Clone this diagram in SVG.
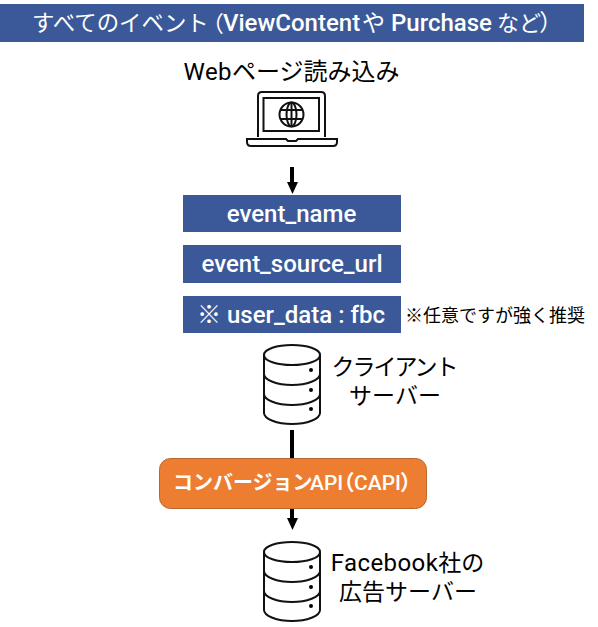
<svg xmlns="http://www.w3.org/2000/svg" width="598" height="627" viewBox="0 0 598 627">
<style>
text{font-family:Roboto,"Noto Sans CJK JP",sans-serif;text-anchor:middle}
.s{text-anchor:start}
.bar{fill:#3b5998}
.w{fill:#fff;font-weight:500}
.r{font-weight:400}
.p{font-feature-settings:"palt"}
.k{fill:#000;font-weight:400;font-size:23px}
.m{font-size:24px;letter-spacing:.4px}
.o{fill:none;stroke:#111;stroke-width:2}
.c{stroke:#000;stroke-width:4;fill:none}
</style>
<defs>
<g id="db">
<path class="o" d="M1 10C1 4 14 0 29 0S57 4 57 10V68C57 74 44 79 29 79S1 74 1 68Z" fill="#fff"/>
<path class="o" d="M1 10C1 16 14 20 29 20S57 16 57 10M1 29C1 35 14 40 29 40S57 35 57 29M1 49C1 55 14 60 29 60S57 55 57 49"/>
<circle cx="48" cy="25" r="2"/><circle cx="48" cy="45" r="2"/><circle cx="48" cy="64" r="2"/>
</g>
</defs>
<g id="connectors">
<path class="c" d="M292 167V184"/><path d="M287 182H298L292.500 194Z"/>
<path class="c" d="M292 430V458"/>
<path class="c" d="M292 508V520"/><path d="M287 518H298L292.500 530Z"/>
</g>
<g id="title"><rect class="bar" x="0" y="4" width="584" height="38"/><text class="w s" y="31" font-size="24"><tspan class="r" x="32" font-size="22.400">すべてのイベント</tspan><tspan class="r p" x="212" font-size="22">（</tspan><tspan x="223">ViewContent</tspan><tspan class="r" x="362" font-size="23">や</tspan><tspan x="391">Purchase</tspan><tspan class="r" x="497" font-size="22">など</tspan><tspan class="r p" x="540" font-size="23">）</tspan></text></g>
<g id="web-page">
<text class="k" x="291.500" y="80" style="font-size:24px"><tspan class="m">Web</tspan>ページ読み込み</text>
<path class="o" d="M258 137V96Q258 92 262 92H321Q325 92 325 96V137"/>
<rect class="o" x="263.500" y="98" width="55.500" height="33"/>
<path class="o" d="M247 139H286L288 141H296L298 139H337V142Q337 146 333 146H251Q247 146 247 142Z"/>
<circle class="o" cx="291.500" cy="114.500" r="12"/>
<ellipse class="o" cx="291.500" cy="114.500" rx="5" ry="12" stroke-width="1.500"/>
<path class="o" d="M291.500 102.500V126.500M280 110H303M280 119H303" stroke-width="1.500"/>
</g>
<g id="event-name"><rect class="bar" x="183" y="195" width="218" height="37"/><text class="w" x="291.500" y="222" font-size="24">event_name</text></g>
<g id="event-source-url"><rect class="bar" x="183" y="245" width="218" height="38"/><text class="w" x="292" y="272" font-size="24">event_source_url</text></g>
<g id="user-data"><rect class="bar" x="183" y="296" width="218" height="37"/><text class="w" x="291" y="323" font-size="24">※ user_data : fbc</text></g>
<g id="note"><text x="495" y="322" font-size="18">※任意ですが強く推奨</text></g>
<g id="client-server"><use href="#db" x="263" y="345"/><text class="k" x="394" y="375" style="letter-spacing:-2px">クライアント</text><text class="k" x="395" y="404">サーバー</text></g>
<g id="capi"><rect x="159.500" y="458.500" width="267" height="50" rx="11" fill="#ed7d31" stroke="#b9682d"/><text class="w s" y="490" font-size="21"><tspan x="173" font-size="20" font-weight="700">コンバージョン</tspan><tspan x="310">API</tspan><tspan class="p" x="343" font-weight="700">（</tspan><tspan x="354">CAPI</tspan><tspan class="p" x="401" font-weight="700">）</tspan></text></g>
<g id="facebook-server"><use href="#db" x="263" y="542"/><text class="k" x="407.500" y="571"><tspan class="m">Facebook</tspan>社の</text><text class="k" x="408" y="600">広告サーバー</text></g>
</svg>
